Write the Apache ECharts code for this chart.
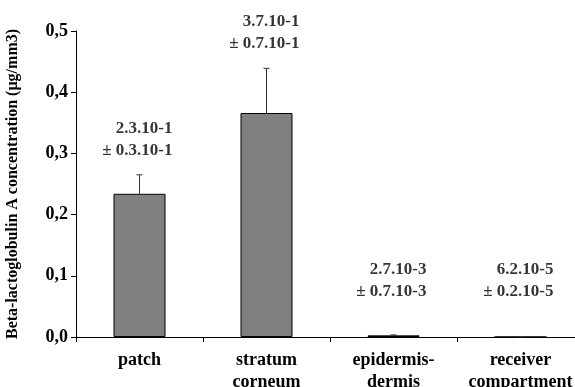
<!DOCTYPE html>
<html lang="en">
<head>
	<meta charset="UTF-8">
	<title>Beta-lactoglobulin A</title>
	<script src="https://cdn.jsdelivr.net/npm/echarts@6/dist/echarts.min.js"></script>
	<style>
		html, body { margin: 0; padding: 0; background: #fff; }
	</style>
</head>
<body>
	<div id="chart" style="width: 575px;height: 387px;"></div>

	<script type="text/javascript">
	// data
	var categories = ['patch', 'stratum\ncorneum', 'epidermis-\ndermis', 'receiver\ncompartment'];
	var means = [0.234, 0.366, 0.0027, 0.000062];
	var errors = [0.031, 0.073, 0.0007, 0.000002];
	var meanText = ['2.3.10-1', '3.7.10-1', '2.7.10-3', '6.2.10-5'];
	var errText = ['0.3.10-1', '0.7.10-1', '0.7.10-3', '0.2.10-5'];
	// height (in axis units) where each annotation sits
	var labelAt = [0.286, 0.461, 0.056, 0.056];

	var font = '"Liberation Serif", "Times New Roman", serif';
	var chart = echarts.init(document.getElementById('chart'));

	var errData = [];
	var noteData = [];
	for (var i = 0; i < categories.length; i++) {
		errData.push([i, means[i], means[i] + errors[i]]);
		noteData.push({value: [i, labelAt[i]], note: meanText[i] + '\n\u00b1 ' + errText[i]});
	}

	var option = {
		animation: false,
		grid: {left: 76, right: -9, top: 31, bottom: 50, outerBoundsMode: 'none', containLabel: false},
		xAxis: {
			type: 'category',
			data: categories,
			axisLine: {lineStyle: {color: '#000', width: 1}},
			axisTick: {show: true, length: 5, lineStyle: {color: '#000'}},
			axisLabel: {
				interval: 0, hideOverlap: false,
				color: '#000', fontFamily: font, fontWeight: 'bold', fontSize: 18,
				lineHeight: 22, margin: 12
			}
		},
		yAxis: {
			type: 'value',
			min: 0, max: 0.5, interval: 0.1,
			name: 'Beta-lactoglobulin A concentration (\u00b5g/mm3)',
			nameLocation: 'middle',
			nameGap: 55,
			nameTextStyle: {color: '#000', fontFamily: font, fontWeight: 'bold', fontSize: 16},
			axisLine: {show: true, lineStyle: {color: '#000', width: 1}},
			axisTick: {show: true, length: 5, lineStyle: {color: '#000'}},
			splitLine: {show: false},
			axisLabel: {
				color: '#000', fontFamily: font, fontWeight: 'bold', fontSize: 18, margin: 8,
				formatter: function (v) { return v.toFixed(1).replace('.', ','); }
			}
		},
		series: [
			{
				type: 'bar',
				data: means,
				barWidth: 52,
				itemStyle: {color: '#808080', borderColor: '#000', borderWidth: 1}
			},
			{
				type: 'custom',
				data: errData,
				z: 3,
				renderItem: function (params, api) {
					var x = api.value(0);
					var lo = api.coord([x, api.value(1)]);
					var hi = api.coord([x, api.value(2)]);
					var style = {stroke: '#333', lineWidth: 1};
					return {
						type: 'group',
						children: [
							{type: 'line', shape: {x1: lo[0], y1: lo[1], x2: hi[0], y2: hi[1]}, style: style},
							{type: 'line', shape: {x1: hi[0] - 3, y1: hi[1], x2: hi[0] + 3, y2: hi[1]}, style: style}
						]
					};
				}
			},
			{
				type: 'scatter',
				data: noteData,
				symbolSize: 0,
				silent: true,
				label: {
					show: true,
					position: 'inside',
					offset: [33, 0],
					align: 'right',
					verticalAlign: 'bottom',
					color: '#000', fontFamily: font, fontWeight: 'bold', fontSize: 17,
					lineHeight: 22,
					formatter: function (p) { return p.data.note; }
				}
			}
		]
	};
	chart.setOption(option);
	</script>
</body>
</html>
